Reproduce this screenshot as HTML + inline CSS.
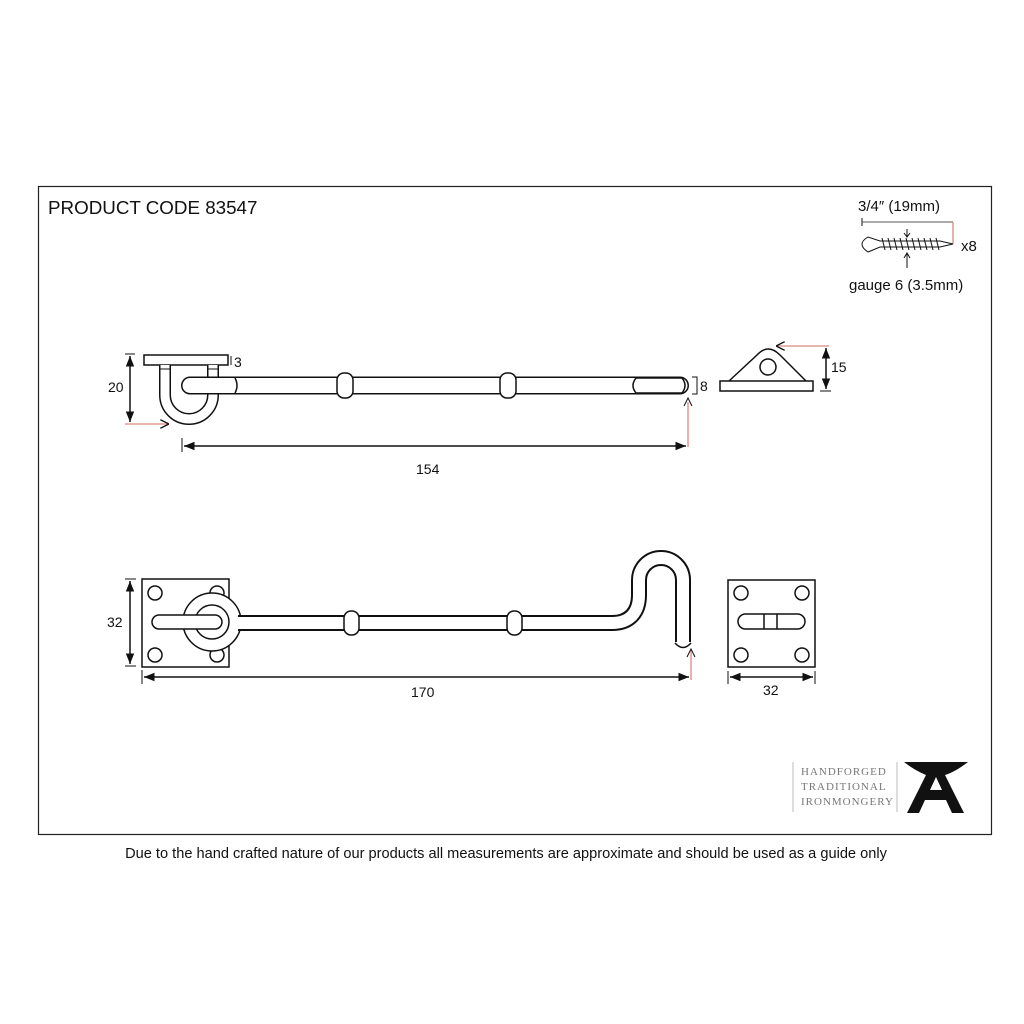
<!DOCTYPE html>
<html><head><meta charset="utf-8"><style>
html,body{margin:0;padding:0;background:#fff}
svg{display:block}
text{font-family:"Liberation Sans",sans-serif;fill:#111}
</style></head><body>
<svg width="1024" height="1024" viewBox="0 0 1024 1024" xmlns="http://www.w3.org/2000/svg">
<defs>
<marker id="a" viewBox="0 0 10 10" refX="10" refY="5" markerWidth="7" markerHeight="7" orient="auto-start-reverse"><path d="M0,1 L10,5 L0,9 z" fill="#111"/></marker>
<marker id="o" viewBox="0 0 10 10" refX="10" refY="5" markerWidth="7" markerHeight="7" orient="auto"><path d="M0,0 L10,5 L0,10" fill="none" stroke="#111" stroke-width="1.5"/></marker>
</defs>
<rect x="38.5" y="186.5" width="953" height="648" fill="none" stroke="#222" stroke-width="1.2"/>
<text x="48" y="214" font-size="18.8">PRODUCT CODE 83547</text>

<!-- TOP VIEW -->
<rect x="144" y="355" width="84" height="10" fill="#fff" stroke="#111" stroke-width="1.5"/>
<path d="M165 365 V395 A24 24 0 0 0 213 395 V365" fill="none" stroke="#111" stroke-width="12"/>
<path d="M165 365 V395 A24 24 0 0 0 213 395 V365" fill="none" stroke="#fff" stroke-width="9"/>
<line x1="160" y1="369" x2="170" y2="369" stroke="#111"/><line x1="208" y1="369" x2="218" y2="369" stroke="#111"/>
<path d="M190 385.5 H680" stroke="#111" stroke-width="18" stroke-linecap="round"/>
<path d="M190 385.5 H680" stroke="#fff" stroke-width="15" stroke-linecap="round"/>
<path d="M235 378 Q239 385.5 235 393" fill="none" stroke="#111" stroke-width="1.5"/>
<path d="M636 378 Q630 385.5 636 393 H682 Q688 385.5 682 378 Z" fill="none" stroke="#111" stroke-width="1.5"/>
<rect x="337" y="373" width="16" height="25" rx="7" fill="#fff" stroke="#111" stroke-width="1.5"/>
<rect x="500" y="373" width="16" height="25" rx="7" fill="#fff" stroke="#111" stroke-width="1.5"/>
<text x="234" y="367" font-size="14">3</text>
<line x1="231" y1="356" x2="231" y2="365" stroke="#111"/>
<line x1="125" y1="354" x2="135" y2="354" stroke="#111"/>
<line x1="130" y1="356" x2="130" y2="422" stroke="#111" stroke-width="1.5" marker-start="url(#a)" marker-end="url(#a)"/>
<text x="108" y="392" font-size="14">20</text>
<line x1="125" y1="424" x2="169" y2="424" stroke="#d98a80" stroke-width="1.3" marker-end="url(#o)"/>
<line x1="182" y1="438" x2="182" y2="452" stroke="#111"/>
<line x1="184" y1="446" x2="686" y2="446" stroke="#111" stroke-width="1.5" marker-start="url(#a)" marker-end="url(#a)"/>
<line x1="688" y1="402" x2="688" y2="447" stroke="#d98a80" stroke-width="1.3"/>
<path d="M684 406 L688 398 L692 406" fill="none" stroke="#111"/>
<text x="416" y="474" font-size="14">154</text>
<path d="M692 377 H697 V394 H692" fill="none" stroke="#111"/>
<text x="700" y="391" font-size="14">8</text>

<!-- keep side -->
<rect x="720" y="381" width="93" height="10" fill="#fff" stroke="#111" stroke-width="1.5"/>
<path d="M729 381 L757 355 Q768 343 780 355 L806 381" fill="none" stroke="#111" stroke-width="1.5"/>
<circle cx="768" cy="367" r="8" fill="none" stroke="#111" stroke-width="1.5"/>
<line x1="829" y1="346" x2="776" y2="346" stroke="#d98a80" stroke-width="1.3" marker-end="url(#o)"/>
<line x1="826" y1="348" x2="826" y2="389" stroke="#111" stroke-width="1.5" marker-start="url(#a)" marker-end="url(#a)"/>
<line x1="820" y1="391" x2="831" y2="391" stroke="#111"/>
<text x="831" y="372" font-size="14">15</text>

<!-- BOTTOM VIEW -->
<rect x="142" y="579" width="87" height="88" fill="#fff" stroke="#111" stroke-width="1.5"/>
<g fill="#fff" stroke="#111" stroke-width="1.5">
<circle cx="155" cy="593" r="7"/><circle cx="155" cy="655" r="7"/><circle cx="217" cy="593" r="7"/><circle cx="217" cy="655" r="7"/>
<circle cx="212" cy="622" r="29"/>
</g>
<path d="M238 623 H612 C630 623 639 612 639 595 V580 A22 22 0 0 1 683 580 V642" fill="none" stroke="#111" stroke-width="16"/>
<path d="M236 623 H612 C630 623 639 612 639 595 V580 A22 22 0 0 1 683 580 V644" fill="none" stroke="#fff" stroke-width="12"/>
<path d="M675 643 Q683 652 691 643" fill="#fff" stroke="#111" stroke-width="1.5"/>
<circle cx="212" cy="622" r="17" fill="#fff" stroke="#111" stroke-width="1.5"/>
<rect x="152" y="615" width="70" height="14" rx="7" fill="#fff" stroke="#111" stroke-width="1.5"/>
<rect x="344" y="611" width="15" height="24" rx="7" fill="#fff" stroke="#111" stroke-width="1.5"/>
<rect x="507" y="611" width="15" height="24" rx="7" fill="#fff" stroke="#111" stroke-width="1.5"/>
<line x1="125" y1="579" x2="136" y2="579" stroke="#111"/><line x1="125" y1="666" x2="136" y2="666" stroke="#111"/>
<line x1="130" y1="581" x2="130" y2="664" stroke="#111" stroke-width="1.5" marker-start="url(#a)" marker-end="url(#a)"/>
<text x="107" y="627" font-size="14">32</text>
<line x1="142" y1="670" x2="142" y2="684" stroke="#111"/>
<line x1="144" y1="677" x2="689" y2="677" stroke="#111" stroke-width="1.5" marker-start="url(#a)" marker-end="url(#a)"/>
<line x1="691" y1="650" x2="691" y2="680" stroke="#d98a80" stroke-width="1.3"/>
<path d="M687 657 L691 649 L695 657" fill="none" stroke="#111"/>
<text x="411" y="697" font-size="14">170</text>

<rect x="728" y="580" width="87" height="87" fill="#fff" stroke="#111" stroke-width="1.5"/>
<g fill="#fff" stroke="#111" stroke-width="1.5">
<circle cx="741" cy="593" r="7"/><circle cx="802" cy="593" r="7"/><circle cx="741" cy="655" r="7"/><circle cx="802" cy="655" r="7"/>
<rect x="738" y="614" width="67" height="15" rx="7.5"/>
<line x1="764" y1="614" x2="764" y2="629"/><line x1="777" y1="614" x2="777" y2="629"/>
</g>
<line x1="728" y1="671" x2="728" y2="684" stroke="#111"/><line x1="815" y1="671" x2="815" y2="684" stroke="#111"/>
<line x1="730" y1="677" x2="813" y2="677" stroke="#111" stroke-width="1.5" marker-start="url(#a)" marker-end="url(#a)"/>
<text x="763" y="695" font-size="14">32</text>

<!-- SCREW -->
<text x="858" y="211" font-size="15">3/4″ (19mm)</text>
<line x1="862" y1="218" x2="862" y2="226" stroke="#111"/>
<line x1="862" y1="222" x2="953" y2="222" stroke="#555"/>
<line x1="953" y1="222" x2="953" y2="244" stroke="#d98a80" stroke-width="1.3"/>
<path d="M868 237 Q856 244 868 252 L880 247 L940 247 L953 244 L940 241 L880 241 Z" fill="#fff" stroke="#111"/>
<path d="M882 238 l3 12 M888 238 l3 12 M894 238 l3 12 M900 238 l3 12 M906 238 l3 12 M912 238 l3 12 M918 238 l3 12 M924 238 l3 12 M930 238 l3 12 M936 238 l3 12" stroke="#111"/>
<path d="M907 229 V236 M904 233 L907 237 L910 233" fill="none" stroke="#111"/>
<path d="M907 268 V254 M904 258 L907 253 L910 258" fill="none" stroke="#111"/>
<text x="961" y="251" font-size="15">x8</text>
<text x="849" y="290" font-size="15">gauge 6 (3.5mm)</text>

<!-- LOGO -->
<line x1="793" y1="762" x2="793" y2="812" stroke="#bbb"/>
<line x1="897" y1="762" x2="897" y2="812" stroke="#bbb"/>
<g font-family="Liberation Serif,serif" font-size="11" letter-spacing="1.0">
<text x="801" y="775" style="fill:#777;font-family:'Liberation Serif',serif">HANDFORGED</text>
<text x="801" y="790" style="fill:#777;font-family:'Liberation Serif',serif">TRADITIONAL</text>
<text x="801" y="805" style="fill:#777;font-family:'Liberation Serif',serif">IRONMONGERY</text>
</g>
<path d="M904 762 H968 Q955 772 945 775 L964 813 H952 L946 800 H925 L919 813 H907 L926 775 Q914 770 904 762 Z M930 790 H942 L936 777 Z" fill="#111" fill-rule="evenodd"/>

<text x="506" y="858" font-size="14.6" text-anchor="middle">Due to the hand crafted nature of our products all measurements are approximate and should be used as a guide only</text>
</svg>
</body></html>
